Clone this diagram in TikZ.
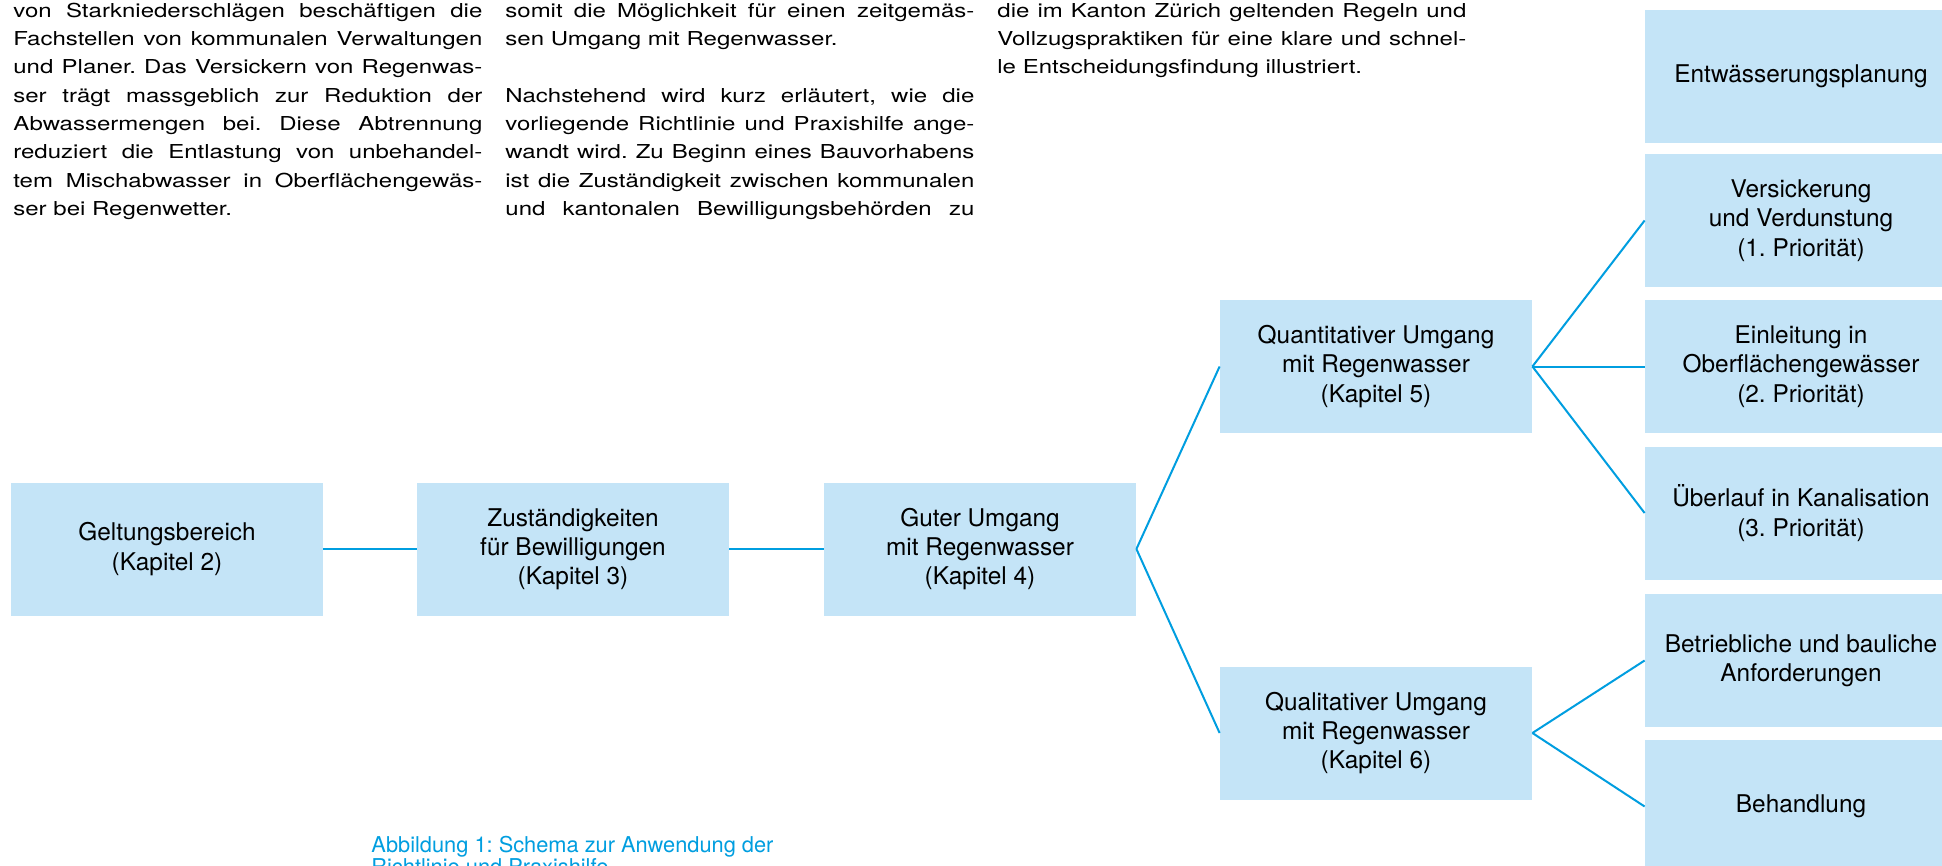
\documentclass[tikz,border=0pt]{standalone}
\usepackage{fontspec}
\setmainfont{TeX Gyre Heros}
\newfontfamily\bodyfont[FakeStretch=1.25]{TeX Gyre Heros}
\definecolor{boxblue}{HTML}{C4E4F7}
\definecolor{linecyan}{HTML}{009EE0}
\newcommand\JustLine[1]{\hbox to 234.5pt{#1}}
\newcommand\RagLine[1]{\hbox to 234.5pt{#1\hfil}}
\frenchspacing
\begin{document}
\begin{tikzpicture}[x=0.5pt,y=-0.5pt,
  box/.style={fill=boxblue, draw=none, minimum width=156pt, minimum height=66.5pt, inner sep=0pt, align=center, font=\fontsize{12.2}{14.6}\selectfont},
  link/.style={draw=linecyan, line width=1pt},
  body/.style={anchor=base west, inner sep=0pt, font=\bodyfont\fontsize{9.6}{14.15}\selectfont}]
\useasboundingbox (0,0) rectangle (1942,866);
\clip (0,0) rectangle (1942,866);
\fill[white] (0,0) rectangle (1942,866);

% body text columns
\node[body] (col1) at (13,17.3) {\vtop{\baselineskip=14.15pt
\JustLine{von Starkniederschlägen beschäftigen die}
\JustLine{Fachstellen von kommunalen Verwaltungen}
\JustLine{und Planer. Das Versickern von Regenwas-}
\JustLine{ser trägt massgeblich zur Reduktion der}
\JustLine{Abwassermengen bei. Diese Abtrennung}
\JustLine{reduziert die Entlastung von unbehandel-}
\JustLine{tem Mischabwasser in Oberflächengewäs-}
\RagLine{ser bei Regenwetter.}}};

\node[body] (col2) at (505,17.3) {\vtop{\baselineskip=14.15pt
\JustLine{somit die Möglichkeit für einen zeitgemäs-}
\RagLine{sen Umgang mit Regenwasser.}
\hbox{}
\JustLine{Nachstehend wird kurz erläutert, wie die}
\JustLine{vorliegende Richtlinie und Praxishilfe ange-}
\JustLine{wandt wird. Zu Beginn eines Bauvorhabens}
\JustLine{ist die Zuständigkeit zwischen kommunalen}
\JustLine{und kantonalen Bewilligungsbehörden zu}}};

\node[body] (col3) at (997,17.3) {\vtop{\baselineskip=14.15pt
\JustLine{die im Kanton Zürich geltenden Regeln und}
\JustLine{Vollzugspraktiken für eine klare und schnel-}
\RagLine{le Entscheidungsfindung illustriert.}}};

% boxes
\node[box] (gelt) at (167,549) {Geltungsbereich\\(Kapitel 2)};
\node[box] (zust) at (573,549) {Zuständigkeiten\\für Bewilligungen\\(Kapitel 3)};
\node[box] (guter) at (980,549) {Guter Umgang\\mit Regenwasser\\(Kapitel 4)};
\node[box] (quant) at (1376,366.5) {Quantitativer Umgang\\mit Regenwasser\\(Kapitel 5)};
\node[box] (qual) at (1376,733) {Qualitativer Umgang\\mit Regenwasser\\(Kapitel 6)};

\node[box] (entw) at (1801,76.5) {Entwässerungsplanung};
\node[box] (vers) at (1801,220.5) {Versickerung\\und Verdunstung\\(1. Priorität)};
\node[box] (einl) at (1801,366.5) {Einleitung in\\Oberflächengewässer\\(2. Priorität)};
\node[box] (ueber) at (1801,513) {Überlauf in Kanalisation\\(3. Priorität)};
\node[box] (betr) at (1801,660.5) {Betriebliche und bauliche\\Anforderungen};
\node[box] (beh) at (1801,806.5) {Behandlung};

% connectors
\draw[link] (gelt.east) -- (zust.west);
\draw[link] (zust.east) -- (guter.west);
\draw[link] (guter.east) -- (quant.west);
\draw[link] (guter.east) -- (qual.west);
\draw[link] (quant.east) -- (vers.west);
\draw[link] (quant.east) -- (einl.west);
\draw[link] (quant.east) -- (ueber.west);
\draw[link] (qual.east) -- (betr.west);
\draw[link] (qual.east) -- (beh.west);

% caption
\node[anchor=base west, inner sep=0pt, text=linecyan, font=\fontsize{10.9}{11}\selectfont] (cap) at (371,852)
  {\vtop{\baselineskip=11pt\hbox{Abbildung 1: Schema zur Anwendung der}\hbox{Richtlinie und Praxishilfe}}};
\end{tikzpicture}
\end{document}
